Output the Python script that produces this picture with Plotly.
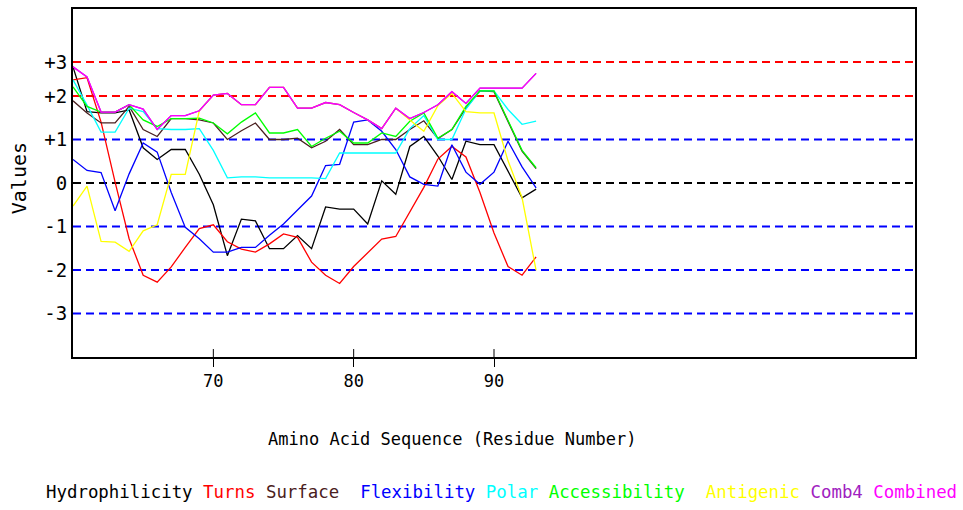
import plotly.graph_objects as go

# ---------------- data ----------------
residues = list(range(60, 94))

hydrophilicity = [2.67, 1.64, 1.61, 1.61, 1.68, 0.81, 0.54, 0.77, 0.77, 0.20,
                  -0.50, -1.67, -0.83, -0.87, -1.51, -1.51, -1.21, -1.51, -0.55, -0.60,
                  -0.60, -0.94, 0.05, -0.26, 0.84, 1.07, 0.62, 0.08, 0.96, 0.88,
                  0.88, 0.27, -0.34, -0.14]
turns = [2.37, 2.42, 1.40, 0.02, -1.28, -2.12, -2.28, -1.93, -1.48, -1.05,
         -0.96, -1.35, -1.52, -1.59, -1.40, -1.17, -1.25, -1.82, -2.12, -2.31,
         -1.92, -1.60, -1.29, -1.23, -0.68, -0.10, 0.55, 0.84, 0.60, -0.22,
         -1.15, -1.92, -2.12, -1.70]
surface = [1.89, 1.61, 1.38, 1.38, 1.76, 1.23, 1.07, 1.48, 1.48, 1.45,
           1.38, 1.00, 1.20, 1.38, 1.00, 1.00, 1.03, 0.81, 0.96, 1.23,
           0.88, 0.88, 1.00, 1.00, 1.23, 1.43, 1.02, 1.23, 1.72, 2.12,
           2.10, 1.43, 0.73, 0.33]
flexibility = [0.54, 0.29, 0.24, -0.64, 0.21, 0.92, 0.71, -0.22, -1.02, -1.28,
               -1.59, -1.59, -1.48, -1.48, -1.20, -0.94, -0.62, -0.30, 0.40, 0.43,
               1.40, 1.45, 1.19, 0.77, 0.14, -0.03, -0.07, 0.88, 0.25, -0.03,
               0.25, 0.96, 0.37, -0.11]
polar = [2.37, 1.79, 1.17, 1.17, 1.72, 1.64, 1.25, 1.23, 1.23, 1.25,
         0.75, 0.12, 0.14, 0.14, 0.12, 0.12, 0.12, 0.12, 0.10, 0.69,
         0.69, 0.69, 0.69, 0.69, 1.25, 1.55, 1.00, 1.00, 1.70, 2.12,
         2.12, 1.69, 1.35, 1.42]
accessibility = [2.21, 1.76, 1.63, 1.63, 1.80, 1.45, 1.30, 1.48, 1.48, 1.49,
                 1.38, 1.13, 1.40, 1.61, 1.15, 1.15, 1.23, 0.84, 1.03, 1.19,
                 0.92, 0.92, 1.15, 1.07, 1.42, 1.61, 1.03, 1.23, 1.76, 2.12,
                 2.12, 1.45, 0.75, 0.35]
antigenic = [-0.53, -0.07, -1.34, -1.36, -1.57, -1.10, -0.96, 0.20, 0.20, 1.66,
             2.02, 2.06, 1.80, 1.80, 2.20, 2.20, 1.72, 1.72, 1.85, 1.80,
             1.62, 1.45, 1.25, 1.72, 1.45, 1.19, 1.78, 2.06, 1.64, 1.61,
             1.61, 0.51, -0.34, -2.01]
comb4 = [2.67, 2.44, 1.63, 1.63, 1.80, 1.70, 1.23, 1.55, 1.55, 1.66,
         2.02, 2.06, 1.80, 1.80, 2.20, 2.20, 1.72, 1.72, 1.85, 1.80,
         1.62, 1.45, 1.25, 1.72, 1.48, 1.62, 1.80, 2.10, 1.83, 2.18,
         2.18, 2.18, 2.18, 2.52]
combined = [2.67, 2.44, 1.63, 1.63, 1.80, 1.70, 1.23, 1.55, 1.55, 1.66,
            2.02, 2.06, 1.80, 1.80, 2.20, 2.20, 1.72, 1.72, 1.85, 1.80,
            1.62, 1.45, 1.25, 1.72, 1.48, 1.62, 1.80, 2.10, 1.83, 2.18,
            2.18, 2.18, 2.18, 2.52]

series_names = ["Hydrophilicity", "Turns", "Surface", "Flexibility", "Polar",
                "Accessibility", "Antigenic", "Comb4", "Combined"]
series_values = [hydrophilicity, turns, surface, flexibility, polar,
                 accessibility, antigenic, comb4, combined]
series_colors = ["#000000", "#ff0000", "#4a2020", "#0000ff", "#00ffff",
                 "#00ff00", "#ffff00", "#a020c0", "#ff00ff"]
legend_sep = ["", " ", " ", "  ", " ", " ", "  ", " ", " "]

x_ticks = [70, 80, 90]
level_vals = [2.78, 2, 1, 0, -1, -2, -3]
level_text = ["+3", "+2", "+1", "0", "-1", "-2", "-3"]
level_colors = ["#ff0000", "#ff0000", "#0000ff", "#000000", "#0000ff", "#0000ff", "#0000ff"]

# ---------------- figure ----------------
MONO = "DejaVu Sans Mono"
fig = go.Figure()

for name, vals, col in zip(series_names, series_values, series_colors):
    fig.add_trace(go.Scatter(x=residues, y=vals, mode="lines", name=name,
                             line=dict(color=col, width=1.3), showlegend=False))

# dashed reference levels
for v, c in zip(level_vals, level_colors):
    fig.add_shape(type="line", xref="paper", x0=0, x1=1, yref="y", y0=v, y1=v,
                  line=dict(color=c, width=2, dash="8px,5px"), layer="between")

# inner part of x tick marks (ticks cross the axis)
for t in x_ticks:
    fig.add_shape(type="line", xref="x", x0=t, x1=t, yref="paper", y0=0, y1=8 / 350,
                  line=dict(color="black", width=1), layer="above")

# legend as coloured text
legend_html = "".join(
    f"{sep}<span style='color:{c}'>{n}</span>"
    for sep, n, c in zip(legend_sep, series_names, series_colors)
)
fig.add_annotation(text=legend_html, xref="paper", yref="paper", x=0.5095, y=-0.389,
                   xanchor="center", yanchor="middle", showarrow=False,
                   font=dict(family=MONO, size=17.4, color="black"))

fig.add_annotation(text="Amino Acid Sequence (Residue Number)", xref="paper", yref="paper",
                   x=0.45, y=-0.237, xanchor="center", yanchor="middle", showarrow=False,
                   font=dict(family=MONO, size=17, color="black"))
fig.add_annotation(text="Values", xref="paper", yref="paper", x=-0.064, y=0.514,
                   xanchor="center", yanchor="middle", showarrow=False, textangle=-90,
                   font=dict(family=MONO, size=20, color="black"))

fig.update_layout(
    width=963, height=510,
    margin=dict(l=73, r=48, t=7, b=153),
    paper_bgcolor="white", plot_bgcolor="white",
    showlegend=False, hovermode=False,
    xaxis=dict(range=[60, 120], tickvals=x_ticks, ticks="outside", ticklen=8,
               tickwidth=1, tickcolor="black", showgrid=False, zeroline=False,
               showline=True, linecolor="black", linewidth=2, mirror=True,
               tickfont=dict(family=MONO, size=17, color="black")),
    yaxis=dict(range=[-4, 4], tickvals=level_vals, ticktext=level_text, ticks="",
               showgrid=False, zeroline=False, showline=True, linecolor="black",
               linewidth=2, mirror=True,
               tickfont=dict(family=MONO, size=19, color="black")),
)

fig.write_html("out.html", config={"displayModeBar": False, "staticPlot": True},
               post_script="document.body.style.margin='0';document.body.style.overflow='hidden';")
